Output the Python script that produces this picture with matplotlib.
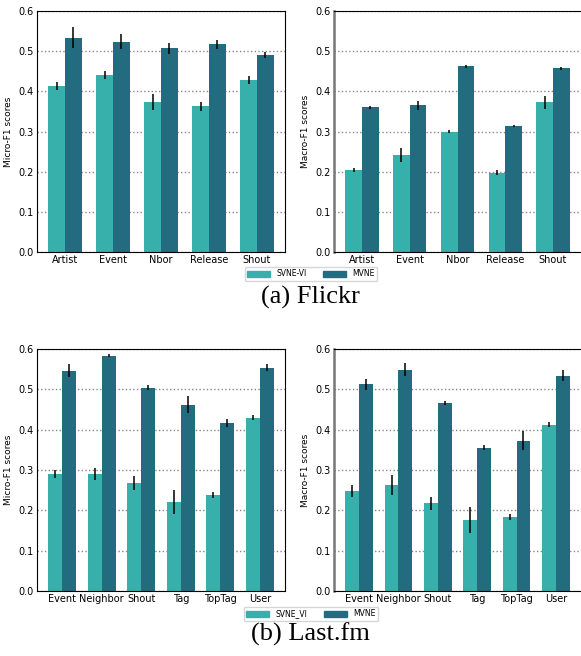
import matplotlib
matplotlib.use("Agg")
import matplotlib.pyplot as plt
import numpy as np

LIGHT = "#37b0ab"
DARK = "#236b7e"

# Flickr
FLICKR_CATS = ["Artist", "Event", "Nbor", "Release", "Shout"]
FLICKR_MICRO_SVNE = [0.413, 0.440, 0.373, 0.363, 0.428]
FLICKR_MICRO_SVNE_ERR = [0.010, 0.010, 0.020, 0.011, 0.009]
FLICKR_MICRO_MVNE = [0.534, 0.524, 0.507, 0.517, 0.490]
FLICKR_MICRO_MVNE_ERR = [0.026, 0.018, 0.013, 0.012, 0.008]
FLICKR_MACRO_SVNE = [0.204, 0.241, 0.300, 0.197, 0.373]
FLICKR_MACRO_SVNE_ERR = [0.005, 0.017, 0.003, 0.006, 0.016]
FLICKR_MACRO_MVNE = [0.360, 0.365, 0.462, 0.313, 0.457]
FLICKR_MACRO_MVNE_ERR = [0.003, 0.012, 0.004, 0.003, 0.003]

# Last.fm
LASTFM_CATS = ["Event", "Neighbor", "Shout", "Tag", "TopTag", "User"]
LASTFM_MICRO_SVNE = [0.290, 0.290, 0.268, 0.221, 0.238, 0.430]
LASTFM_MICRO_SVNE_ERR = [0.010, 0.015, 0.017, 0.030, 0.007, 0.006]
LASTFM_MICRO_MVNE = [0.546, 0.583, 0.504, 0.462, 0.417, 0.554]
LASTFM_MICRO_MVNE_ERR = [0.016, 0.004, 0.006, 0.021, 0.010, 0.008]
LASTFM_MACRO_SVNE = [0.248, 0.263, 0.218, 0.176, 0.183, 0.412]
LASTFM_MACRO_SVNE_ERR = [0.015, 0.025, 0.016, 0.033, 0.008, 0.006]
LASTFM_MACRO_MVNE = [0.512, 0.549, 0.467, 0.355, 0.373, 0.534]
LASTFM_MACRO_MVNE_ERR = [0.013, 0.017, 0.005, 0.006, 0.023, 0.013]

W, H = 581, 656
fig = plt.figure(figsize=(W / 100, H / 100), dpi=100)


def px_axes(left, top, right, bottom):
    return fig.add_axes([left / W, 1 - bottom / H, (right - left) / W, (bottom - top) / H])


def draw(ax, cats, svne, svne_err, mvne, mvne_err, ylabel, right_side):
    x = np.arange(len(cats))
    w = 0.35
    ax.bar(x - w / 2, svne, w, yerr=svne_err, color=LIGHT, ecolor="black",
           error_kw=dict(elinewidth=1.1), zorder=2)
    ax.bar(x + w / 2, mvne, w, yerr=mvne_err, color=DARK, ecolor="black",
           error_kw=dict(elinewidth=1.1), zorder=2)
    ax.set_ylim(0, 0.6)
    ax.set_yticks([0.0, 0.1, 0.2, 0.3, 0.4, 0.5, 0.6])
    ax.set_xticks(x)
    ax.set_xticklabels(cats)
    ax.tick_params(labelsize=7, length=0, pad=2.5)
    ax.set_ylabel(ylabel, fontsize=6.5, labelpad=4)
    ax.yaxis.grid(True, linestyle=":", color="#888888", linewidth=1.0, zorder=0)
    ax.set_axisbelow(True)
    if right_side:
        ax.spines["left"].set_color("#777777")
        ax.spines["left"].set_linewidth(1.8)
        ax.spines["right"].set_visible(False)


ax1 = px_axes(37, 11, 285, 252)
draw(ax1, FLICKR_CATS, FLICKR_MICRO_SVNE, FLICKR_MICRO_SVNE_ERR,
     FLICKR_MICRO_MVNE, FLICKR_MICRO_MVNE_ERR, "Micro-F1 scores", False)
ax2 = px_axes(334, 11, 581, 252)
draw(ax2, FLICKR_CATS, FLICKR_MACRO_SVNE, FLICKR_MACRO_SVNE_ERR,
     FLICKR_MACRO_MVNE, FLICKR_MACRO_MVNE_ERR, "Macro-F1 scores", True)
ax3 = px_axes(37, 349, 285, 591)
draw(ax3, LASTFM_CATS, LASTFM_MICRO_SVNE, LASTFM_MICRO_SVNE_ERR,
     LASTFM_MICRO_MVNE, LASTFM_MICRO_MVNE_ERR, "Micro-F1 scores", False)
ax4 = px_axes(334, 349, 581, 591)
draw(ax4, LASTFM_CATS, LASTFM_MACRO_SVNE, LASTFM_MACRO_SVNE_ERR,
     LASTFM_MACRO_MVNE, LASTFM_MACRO_MVNE_ERR, "Macro-F1 scores", True)

for labels, ycen in ((["SVNE-VI", "MVNE"], 274), (["SVNE_VI", "MVNE"], 614)):
    handles = [plt.Rectangle((0, 0), 1, 1, color=LIGHT), plt.Rectangle((0, 0), 1, 1, color=DARK)]
    fig.legend(handles, labels, loc="center", bbox_to_anchor=(311 / W, 1 - ycen / H),
               ncol=2, fontsize=5.5, handlelength=3.0, handleheight=0.8,
               columnspacing=2.2, borderpad=0.35, frameon=True, fancybox=True)

fig.text(310 / W, 1 - 297 / H, "(a) Flickr", ha="center", va="center",
         fontsize=19, family=["Liberation Serif", "DejaVu Serif"])
fig.text(310 / W, 1 - 634 / H, "(b) Last.fm", ha="center", va="center",
         fontsize=19, family=["Liberation Serif", "DejaVu Serif"])

fig.savefig("out.png", dpi=100)
